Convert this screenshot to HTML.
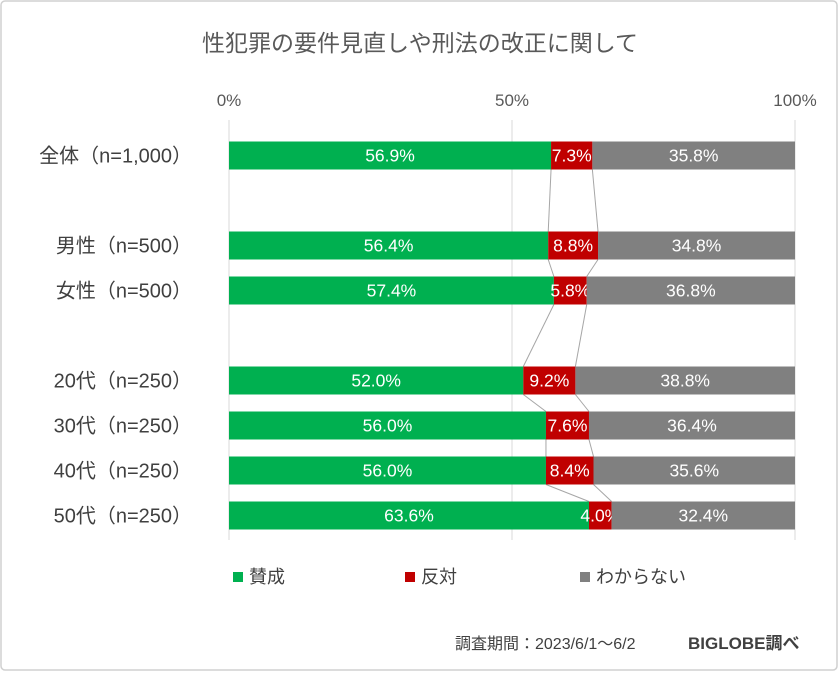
<!DOCTYPE html>
<html><head><meta charset="utf-8">
<style>
body{margin:0;background:#fff;}
svg text{font-family:"Liberation Sans","Noto Sans CJK JP",sans-serif;}
</style></head>
<body>
<svg id="chart" width="840" height="673" viewBox="0 0 840 673" xmlns="http://www.w3.org/2000/svg">
<rect x="1" y="1" width="836" height="669" fill="#fff" stroke="#d0d0d0" stroke-width="1.5" rx="4"/>
<text x="420" y="51" text-anchor="middle" font-size="23" fill="#595959">性犯罪の要件見直しや刑法の改正に関して</text>
<g id="plot"></g>
<g>
<rect x="233" y="572" width="10" height="10" fill="#00B050"/>
<text x="249" y="583" font-size="18" fill="#404040">賛成</text>
<rect x="405" y="572" width="10" height="10" fill="#C00000"/>
<text x="421" y="583" font-size="18" fill="#404040">反対</text>
<rect x="580" y="572" width="10" height="10" fill="#808080"/>
<text x="596" y="583" font-size="18" fill="#404040">わからない</text>
</g>
<text x="455" y="649" font-size="16" fill="#404040">調査期間：2023/6/1～6/2</text>
<text x="688" y="649" font-size="17" font-weight="bold" fill="#404040">BIGLOBE調べ</text>
</svg>
<script>
const categories=["全体（n=1,000）","","男性（n=500）","女性（n=500）","","20代（n=250）","30代（n=250）","40代（n=250）","50代（n=250）"];
const agree=[56.9,null,56.4,57.4,null,52.0,56.0,56.0,63.6];
const oppose=[7.3,null,8.8,5.8,null,9.2,7.6,8.4,4.0];
const unknown=[35.8,null,34.8,36.8,null,38.8,36.4,35.6,32.4];
const ticks=[0,50,100];
const tickLabels=["0%","50%","100%"];

const NS="http://www.w3.org/2000/svg";
const plot=document.getElementById("plot");
const x0=229,x1=795,yTop=133,rowH=45,barH=28;
const X=v=>x0+(x1-x0)*v/100;
const Y=i=>yTop+rowH*i+rowH/2;
function mk(tag,attrs,parent){const e=document.createElementNS(NS,tag);for(const k in attrs)e.setAttribute(k,attrs[k]);(parent||plot).appendChild(e);return e;}

ticks.forEach((t,i)=>{
  const g=mk("line",{x1:X(t),x2:X(t),y1:120,y2:540,stroke:"#d9d9d9","stroke-width":1});
  
  
  const tx=mk("text",{x:X(t),y:106,"text-anchor":"middle","font-size":17,fill:"#595959"});
  tx.textContent=tickLabels[i];
  
  
});

const idx=categories.map((c,i)=>i).filter(i=>agree[i]!=null);
for(let k=0;k<idx.length-1;k++){
  const a=idx[k],b=idx[k+1];
  [agree[a],agree[a]+oppose[a]].forEach((v,j)=>{
    const v2=j==0?agree[b]:agree[b]+oppose[b];
    const l=mk("line",{x1:X(v),y1:Y(a)+barH/2,x2:X(v2),y2:Y(b)-barH/2,stroke:"#a6a6a6","stroke-width":1});
    
    
  });
}

categories.forEach((c,i)=>{
  if(agree[i]==null)return;
  const cy=Y(i);
  const lab=mk("text",{x:192,y:cy+7,"text-anchor":"end","font-size":20,fill:"#404040"});
  lab.textContent=c;
  
  
  const segs=[[agree[i],"#00B050","agree"],[oppose[i],"#C00000","oppose"],[unknown[i],"#808080","unknown"]];
  let s=0;
  segs.forEach(([v,col,nm])=>{
    const r=mk("rect",{x:X(s),y:cy-barH/2,width:X(s+v)-X(s),height:barH,fill:col});
    
    
    const t=mk("text",{x:(X(s)+X(s+v))/2,y:cy+6,"text-anchor":"middle","font-size":17.5,fill:"#fff"});
    t.textContent=v.toFixed(1)+"%";
    
    
    s+=v;
  });
});
</script>
</body></html>
